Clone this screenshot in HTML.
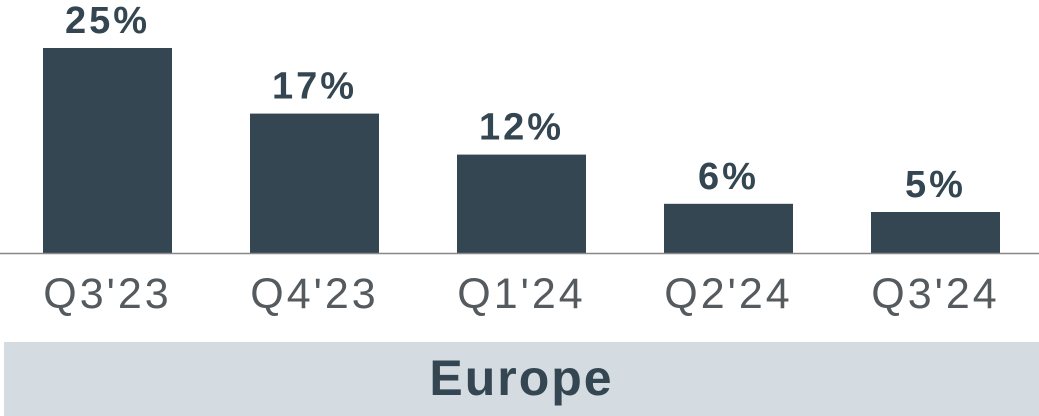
<!DOCTYPE html>
<html><head><meta charset="utf-8"><style>
html,body{margin:0;padding:0;background:#fff;}
body{width:1039px;height:416px;overflow:hidden;position:relative;font-family:"Liberation Sans",sans-serif;}
#band{position:absolute;left:4px;top:342px;width:1035px;height:74px;background:#d5dce1;color:#344652;font-weight:bold;font-size:50px;letter-spacing:2px;text-align:center;line-height:72px;}
</style></head><body>
<svg id="chart" width="1039" height="342" style="position:absolute;left:0;top:0"></svg>
<div id="band">Europe</div>
<script>
const categories=["Q3'23","Q4'23","Q1'24","Q2'24","Q3'24"];
const values=[25,17,12,6,5];
const valueLabels=["25%","17%","12%","6%","5%"];
const svg=document.getElementById('chart');
const NS='http://www.w3.org/2000/svg';
const base=253, pxPer=8.2, x0=43, step=207, bw=129;
function y(v){return base-v*pxPer;}
function xPos(i){return x0+i*step;}
values.forEach((v,i)=>{
  const r=document.createElementNS(NS,'rect');
  r.setAttribute('x',xPos(i));r.setAttribute('y',y(v));
  r.setAttribute('width',bw);r.setAttribute('height',base-y(v));
  r.setAttribute('fill','#344652');
  
  
  svg.appendChild(r);
  const t=document.createElementNS(NS,'text');
  t.setAttribute('x',xPos(i)+bw/2);t.setAttribute('y',y(v)-15);
  t.setAttribute('text-anchor','middle');t.setAttribute('font-size','38');
  t.setAttribute('letter-spacing','3');
  t.setAttribute('font-weight','bold');t.setAttribute('fill','#344652');
  t.setAttribute('font-family','Liberation Sans, sans-serif');
  t.textContent=valueLabels[i];
  
  
  svg.appendChild(t);
  const c=document.createElementNS(NS,'text');
  c.setAttribute('x',xPos(i)+bw/2);c.setAttribute('y',308);
  c.setAttribute('text-anchor','middle');c.setAttribute('font-size','43');
  c.setAttribute('letter-spacing','3');
  c.setAttribute('fill','#555a5e');
  c.setAttribute('font-family','Liberation Sans, sans-serif');
  c.textContent=categories[i];
  
  
  svg.appendChild(c);
});
const l=document.createElementNS(NS,'line');
l.setAttribute('x1',0);l.setAttribute('x2',1039);l.setAttribute('y1',base+0.5);l.setAttribute('y2',base+0.5);
l.setAttribute('stroke','#888');l.setAttribute('stroke-width','1.5');


svg.appendChild(l);
</script>
</body></html>
